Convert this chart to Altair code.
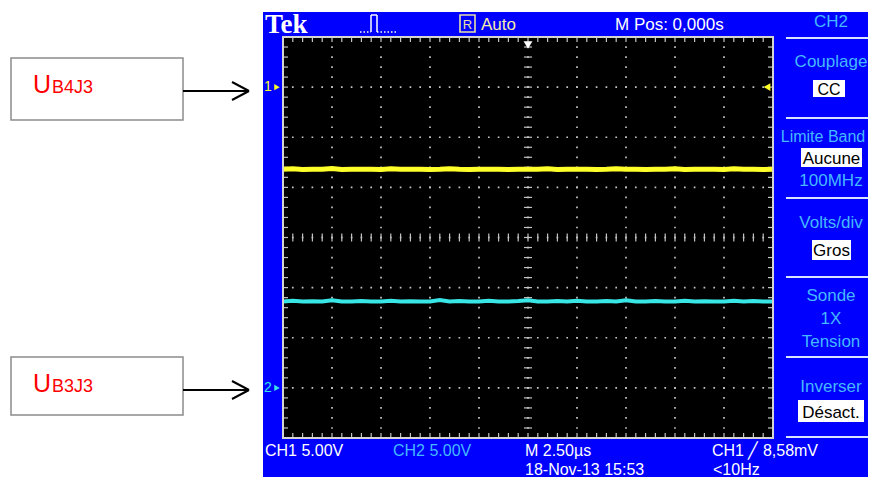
import altair as alt
import pandas as pd

# ---------------- data ----------------
TIME_US = [-12.5, -12.0, -11.5, -11.0, -10.5, -10.0, -9.5, -9.0, -8.5, -8.0,
           -7.5, -7.0, -6.5, -6.0, -5.5, -5.0, -4.5, -4.0, -3.5, -3.0,
           -2.5, -2.0, -1.5, -1.0, -0.5, 0.0, 0.5, 1.0, 1.5, 2.0,
           2.5, 3.0, 3.5, 4.0, 4.5, 5.0, 5.5, 6.0, 6.5, 7.0,
           7.5, 8.0, 8.5, 9.0, 9.5, 10.0, 10.5, 11.0, 11.5, 12.0, 12.5]
CH1_VOLTS = [-8.20, -8.15, -8.22, -8.18, -8.20, -8.12, -8.22, -8.20, -8.18, -8.20,
             -8.22, -8.15, -8.20, -8.20, -8.18, -8.22, -8.20, -8.15, -8.20, -8.22,
             -8.20, -8.18, -8.20, -8.22, -8.18, -8.20, -8.20, -8.15, -8.22, -8.20,
             -8.18, -8.20, -8.22, -8.20, -8.15, -8.20, -8.20, -8.22, -8.18, -8.20,
             -8.15, -8.22, -8.20, -8.18, -8.20, -8.22, -8.15, -8.20, -8.18, -8.22, -8.20]
CH2_VOLTS = [8.62, 8.70, 8.62, 8.65, 8.62, 8.75, 8.62, 8.62, 8.66, 8.62,
             8.62, 8.70, 8.62, 8.65, 8.62, 8.62, 8.76, 8.62, 8.66, 8.62,
             8.62, 8.70, 8.62, 8.62, 8.66, 8.75, 8.62, 8.62, 8.66, 8.62,
             8.70, 8.62, 8.62, 8.66, 8.62, 8.75, 8.62, 8.62, 8.66, 8.62,
             8.62, 8.70, 8.62, 8.65, 8.62, 8.62, 8.70, 8.62, 8.66, 8.62, 8.62]
VOLTS_PER_DIV = 5.0
CH1_GROUND_DIV = 3
CH2_GROUND_DIV = -3
TRIGGER_LEVEL_V = 0.00858
X_GRID_US = [-10, -7.5, -5, -2.5, 0, 2.5, 5, 7.5, 10]
Y_GRID_DIV = [-3, -2, -1, 0, 1, 2, 3]

TOP_TEXTS = ["Tek", "Auto", "M Pos: 0,000s"]
MENU_TITLE = "CH2"
MENU_LABELS = ["Couplage", "Limite Band", "Volts/div", "Sonde", "Inverser"]
MENU_VALUES = ["CC", "Aucune", "Gros", "Désact."]
MENU_EXTRA = ["100MHz", "1X", "Tension"]
BOTTOM_TEXTS = ["CH1  5.00V", "CH2  5.00V", "M 2.50µs", "CH1 ╱ 8,58mV",
                "18-Nov-13 15:53", "<10Hz"]
SIGNAL_LABELS = [("U", "B4J3"), ("U", "B3J3")]

# ---------------- layout / style ----------------
W, H = 490, 401          # scope screen (plot area)
OX, OY = 283, 37         # page position of the screen's top-left corner
CANVAS_W, CANVAS_H = 860, 469
PAD = {"left": OX - 8, "top": OY - 8, "right": CANVAS_W - (OX - 8) - W,
       "bottom": CANVAS_H - (OY - 8) - H}
BLUE = "#0000fe"
PANEL = "#45b8ff"
YEL = "#ffff2a"
CYAN = "#38e6e6"
GRID = "#c4c4c4"
FONT = "Liberation Sans, Arial, sans-serif"

one = pd.DataFrame({"k": [0]})


def px(x):
    return x - OX


def py(y):
    return y - OY


def txt(s, x, y, color, size=17, align="left", font=FONT, weight="normal"):
    return alt.Chart(one).mark_text(
        text=s, align=align, baseline="alphabetic", color=color,
        fontSize=size, font=font, fontWeight=weight
    ).encode(x=alt.value(px(x)), y=alt.value(py(y)))


def box(x1, y1, x2, y2, fill, stroke="#000000", sw=0.0, fill_opacity=1.0):
    return alt.Chart(one).mark_rect(
        fill=fill, fillOpacity=fill_opacity, stroke=stroke, strokeWidth=sw
    ).encode(x=alt.value(px(x1)), x2=alt.value(px(x2)),
             y=alt.value(py(y1)), y2=alt.value(py(y2)))


def seg(x1, y1, x2, y2, color, sw=1.0, dash=None):
    kw = dict(color=color, strokeWidth=sw)
    if dash:
        kw["strokeDash"] = dash
    return alt.Chart(one).mark_rule(**kw).encode(
        x=alt.value(px(x1)), x2=alt.value(px(x2)),
        y=alt.value(py(y1)), y2=alt.value(py(y2)))


XS = alt.Scale(domain=[-12.5, 12.5], nice=False, zero=False)
YS = alt.Scale(domain=[-4, 4], nice=False, zero=False)

layers = []

# ---- blue instrument frame around the screen ----
layers.append(box(263, 12, 880, 37, BLUE))      # top bar
layers.append(box(263, 438, 880, 490, BLUE))    # bottom bar
layers.append(box(263, 37, 283, 438, BLUE))     # left strip
layers.append(box(773, 37, 880, 438, BLUE))     # right menu

# ---- dotted graticule ----
gx = pd.DataFrame({"t": X_GRID_US})
gy = pd.DataFrame({"d": Y_GRID_DIV})
layers.append(alt.Chart(gx).mark_rule(color=GRID, strokeWidth=1.7,
                                      strokeDash=[1.7, 8.325], strokeDashOffset=0.85).encode(
    x=alt.X("t:Q", scale=XS, axis=None), y=alt.value(0), y2=alt.value(H)))
layers.append(alt.Chart(gy).mark_rule(color=GRID, strokeWidth=1.7,
                                      strokeDash=[1.7, 8.1], strokeDashOffset=0.85).encode(
    y=alt.Y("d:Q", scale=YS, axis=None), x=alt.value(0), x2=alt.value(W)))

# ---- graticule ticks (frame edges and centre cross) ----
xt = alt.Chart(alt.sequence(-12.5, 12.75, 0.5, as_="t"))
yt = alt.Chart(alt.sequence(-4, 4.1, 0.2, as_="d"))
for a, b in [(0, 5), (H - 5, H), (H / 2 - 4, H / 2 + 4)]:
    layers.append(xt.mark_rule(color=GRID, strokeWidth=1.2).encode(
        x=alt.X("t:Q", axis=None), y=alt.value(a), y2=alt.value(b)))
for a, b in [(0, 5), (W - 5, W), (W / 2 - 4, W / 2 + 4)]:
    layers.append(yt.mark_rule(color=GRID, strokeWidth=1.2).encode(
        y=alt.Y("d:Q", axis=None), x=alt.value(a), x2=alt.value(b)))

# ---- traces ----
ch1 = pd.DataFrame({"t": TIME_US, "v": CH1_VOLTS})
ch2 = pd.DataFrame({"t": TIME_US, "v": CH2_VOLTS})
layers.append(
    alt.Chart(ch1).transform_calculate(
        div=f"{CH1_GROUND_DIV} + datum.v / {VOLTS_PER_DIV}"
    ).mark_line(color=YEL, strokeWidth=5).encode(
        x=alt.X("t:Q", axis=None), y=alt.Y("div:Q", axis=None))
)
layers.append(
    alt.Chart(ch2).transform_calculate(
        div=f"{CH2_GROUND_DIV} + datum.v / {VOLTS_PER_DIV}"
    ).mark_line(color=CYAN, strokeWidth=4).encode(
        x=alt.X("t:Q", axis=None), y=alt.Y("div:Q", axis=None))
)

# ---- screen border ----
layers.append(box(OX, OY, OX + W, OY + H, "#000000", "#d4d4d4", 2, 0))

# ---- ground markers, trigger markers ----
gnd = pd.DataFrame({"lab": ["1", "2"], "div": [CH1_GROUND_DIV, CH2_GROUND_DIV],
                    "col": [YEL, CYAN]})
layers.append(alt.Chart(gnd).mark_text(align="left", baseline="middle", fontSize=14,
                                       font=FONT).encode(
    x=alt.value(px(264)), y=alt.Y("div:Q", axis=None),
    text="lab:N", color=alt.Color("col:N", scale=None)))
layers.append(alt.Chart(gnd).mark_point(shape="triangle-right", filled=True, size=40,
                                        opacity=1).encode(
    x=alt.value(px(277)), y=alt.Y("div:Q", axis=None),
    color=alt.Color("col:N", scale=None)))
trig = pd.DataFrame({"div": [CH1_GROUND_DIV + TRIGGER_LEVEL_V / VOLTS_PER_DIV], "t": [0.0]})
layers.append(alt.Chart(trig).mark_point(shape="triangle-left", filled=True, size=60,
                                         color=YEL, opacity=1).encode(
    x=alt.value(W - 6), y=alt.Y("div:Q", axis=None)))
layers.append(alt.Chart(trig).mark_point(shape="triangle-down", filled=True, size=80,
                                         color="#ffffff", opacity=1).encode(
    x=alt.X("t:Q", axis=None), y=alt.value(8)))

# ---- top status bar ----
layers.append(txt(TOP_TEXTS[0], 265, 33, "#ffffff", size=27,
                  font="Liberation Serif, Times New Roman, serif", weight="bold"))
layers.append(seg(360, 32, 371, 32, "#ffffff", 1.5, [1.5, 2]))
layers.append(seg(371, 32, 371, 15, "#ffffff", 1.5))
layers.append(seg(371, 15, 377, 15, "#ffffff", 1.5))
layers.append(seg(377, 15, 377, 32, "#ffffff", 1.5))
layers.append(seg(377, 32, 396, 32, "#ffffff", 1.5, [1.5, 2]))
layers.append(box(460, 15, 475, 32, BLUE, "#e8e0a8", 1.6))
layers.append(txt("R", 467.5, 29, "#e8e0a8", size=13, align="center"))
layers.append(txt(TOP_TEXTS[1], 481, 30, "#f4eca8", size=17))
layers.append(txt(TOP_TEXTS[2], 615, 30, "#ffffff", size=17))

# ---- right-hand menu ----
CX = 831
layers.append(txt(MENU_TITLE, CX, 27, PANEL, size=17, align="center"))
for ysep in [38, 118, 198, 277, 357, 437]:
    layers.append(seg(786, ysep, 880, ysep, "#d8e4ff", 2))
layers.append(txt(MENU_LABELS[0], CX, 67, PANEL, size=17, align="center"))
layers.append(box(813, 80, 845, 97, "#ffffff"))
layers.append(txt(MENU_VALUES[0], 829, 95, "#000000", size=16, align="center"))
layers.append(txt(MENU_LABELS[1], 823, 142, PANEL, size=16, align="center"))
layers.append(box(801, 148, 862, 167, "#ffffff"))
layers.append(txt(MENU_VALUES[1], 831.5, 164, "#000000", size=17, align="center"))
layers.append(txt(MENU_EXTRA[0], CX, 186, PANEL, size=17, align="center"))
layers.append(txt(MENU_LABELS[2], CX, 228, PANEL, size=17, align="center"))
layers.append(box(812, 240, 851, 260, "#ffffff"))
layers.append(txt(MENU_VALUES[2], 831.5, 256, "#000000", size=17, align="center"))
layers.append(txt(MENU_LABELS[3], CX, 301, PANEL, size=17, align="center"))
layers.append(txt(MENU_EXTRA[1], CX, 324, PANEL, size=17, align="center"))
layers.append(txt(MENU_EXTRA[2], CX, 347, PANEL, size=17, align="center"))
layers.append(txt(MENU_LABELS[4], CX, 392, PANEL, size=17, align="center"))
layers.append(box(798, 400, 864, 422, "#ffffff"))
layers.append(txt(MENU_VALUES[3], 831, 418, "#000000", size=17, align="center"))

# ---- bottom status lines ----
layers.append(txt(BOTTOM_TEXTS[0], 265, 456, "#ffffff", size=16))
layers.append(txt(BOTTOM_TEXTS[1], 393, 456, PANEL, size=16))
layers.append(txt(BOTTOM_TEXTS[2], 525, 456, "#ffffff", size=16))
layers.append(txt(BOTTOM_TEXTS[3], 712, 456, "#ffffff", size=16))
layers.append(txt(BOTTOM_TEXTS[4], 525, 475, "#ffffff", size=16))
layers.append(txt(BOTTOM_TEXTS[5], 713, 475, "#ffffff", size=16))

# ---- left annotation boxes with arrows ----
for (big, small), (ytop, ybot, yarr) in zip(SIGNAL_LABELS, [(58, 120, 91), (357, 415, 390)]):
    layers.append(box(11, ytop, 183, ybot, "#ffffff", "#8c8c8c", 1.5))
    layers.append(txt(big, 33, yarr + 2, "#ff0000", size=25))
    layers.append(txt(small, 52, yarr + 2, "#ff0000", size=18))
    layers.append(seg(183, yarr, 249, yarr, "#000000", 2))
    layers.append(seg(249, yarr, 232, yarr - 9, "#000000", 2))
    layers.append(seg(249, yarr, 232, yarr + 9, "#000000", 2))

chart = alt.layer(*layers).properties(
    width=W, height=H, padding=PAD, background="#ffffff",
    autosize=alt.AutoSizeParams(type="none"),
).configure_view(fill="#000000", strokeWidth=0)

chart.save("out.html", embed_options={"renderer": "svg", "actions": False})
